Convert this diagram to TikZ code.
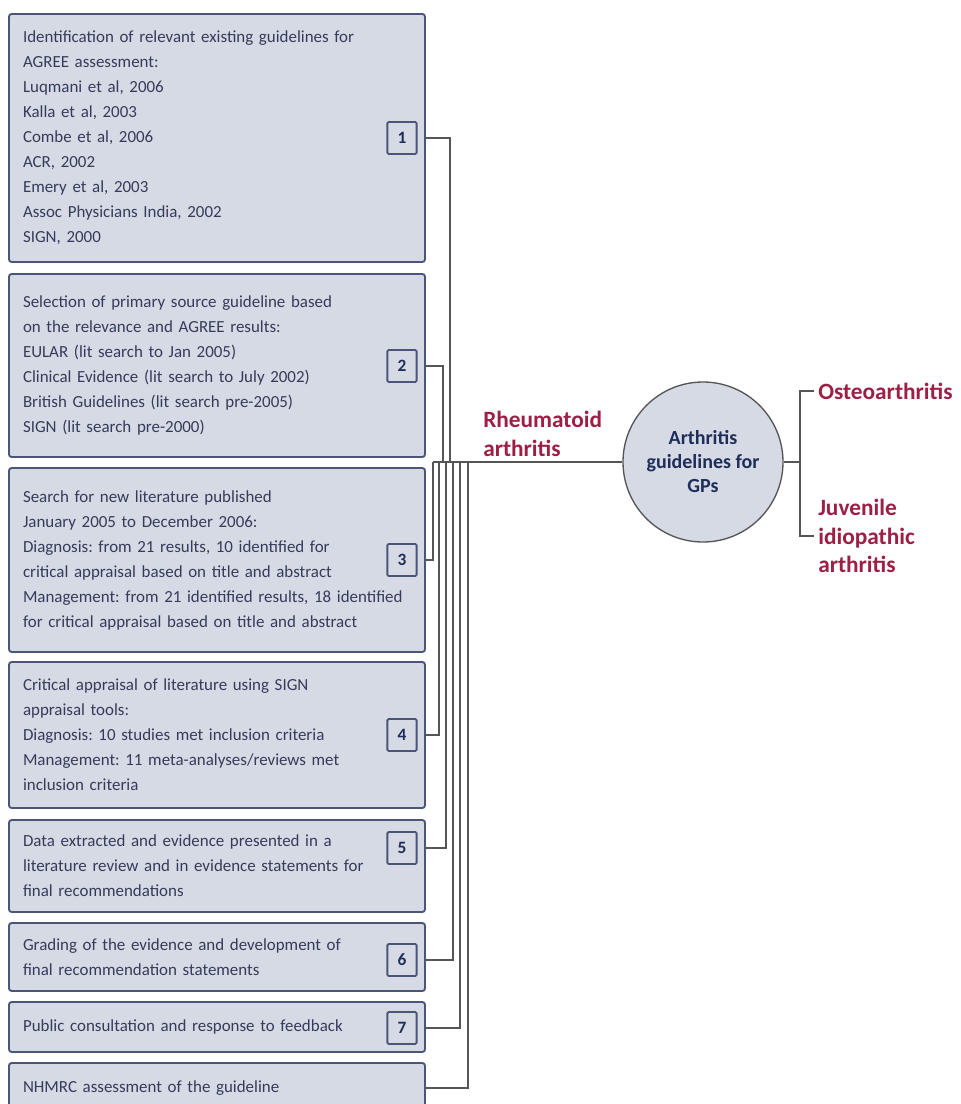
\documentclass[tikz,border=0pt]{standalone}
\usepackage{fontspec}
\setmainfont{Carlito}
\usetikzlibrary{positioning, calc}
\frenchspacing
\definecolor{boxfill}{HTML}{D5DAE4}
\definecolor{boxline}{HTML}{4A5578}
\definecolor{boxtext}{HTML}{353B5A}
\definecolor{ratext}{HTML}{9E1F45}
\definecolor{hubtext}{HTML}{1F2D5A}
\definecolor{wiregray}{HTML}{555555}
\tikzstyle{stage} = [rectangle, rounded corners=2pt, draw=boxline, line width=1.4pt, fill=boxfill, text=boxtext, align=left, text width=291pt, inner xsep=10.5pt, font=\fontsize{12.7}{18.75}\selectfont]
\tikzstyle{num} = [rectangle, rounded corners=1pt, draw=boxline, line width=1.4pt, fill=boxfill, text=hubtext, minimum width=22pt, minimum height=24pt, inner sep=0pt, font=\bfseries\fontsize{13}{15}\selectfont]
\tikzstyle{disease} = [text=ratext, align=left, inner sep=0pt, font=\bfseries\fontsize{17.5}{21.5}\selectfont]
\tikzstyle{hubnode} = [circle, draw=wiregray, line width=1pt, fill=boxfill, minimum size=120pt, inner sep=0pt, align=center, text=hubtext, font=\bfseries\fontsize{15}{18}\selectfont]
\tikzstyle{wire} = [draw=wiregray, line width=1.1pt]

\begin{document}
\begin{tikzpicture}[x=0.75pt, y=-0.75pt]

\clip (0,0) rectangle (961,1104);
\fill [white] (0,0) rectangle (961,1104);

% Stages
\node (s1) [stage, minimum height=186pt] at (217,138) {Identification of relevant existing guidelines for\\AGREE assessment:\\Luqmani et al, 2006\\Kalla et al, 2003\\Combe et al, 2006\\ACR, 2002\\Emery et al, 2003\\Assoc Physicians India, 2002\\SIGN, 2000};
\node (s2) [stage, minimum height=137.25pt] at (217,365.5) {Selection of primary source guideline based\\on the relevance and AGREE results:\\EULAR (lit search to Jan 2005)\\Clinical Evidence (lit search to July 2002)\\British Guidelines (lit search pre-2005)\\SIGN (lit search pre-2000)};
\node (s3) [stage, minimum height=138pt] at (217,560) {Search for new literature published\\January 2005 to December 2006:\\Diagnosis: from 21 results, 10 identified for\\critical appraisal based on title and abstract\\Management: from 21 identified results, 18 identified\\for critical appraisal based on title and abstract};
\node (s4) [stage, minimum height=109.5pt] at (217,735) {Critical appraisal of literature using SIGN\\appraisal tools:\\Diagnosis: 10 studies met inclusion criteria\\Management: 11 meta-analyses/reviews met\\inclusion criteria};
\node (s5) [stage, minimum height=69pt] at (217,866) {Data extracted and evidence presented in a\\literature review and in evidence statements for\\final recommendations};
\node (s6) [stage, minimum height=51pt] at (217,957) {Grading of the evidence and development of\\final recommendation statements};
\node (s7) [stage, minimum height=37.5pt] at (217,1027) {Public consultation and response to feedback};
\node (s8) [stage, minimum height=37.5pt] at (217,1088) {NHMRC assessment of the guideline};

% Step numbers
\node (n1) [num] at (402,138) {1};
\node (n2) [num] at (402,366) {2};
\node (n3) [num] at (402,560) {3};
\node (n4) [num] at (402,735) {4};
\node (n5) [num] at (402,848) {5};
\node (n6) [num] at (402,960) {6};
\node (n7) [num] at (402,1028) {7};

% Hub and topics
\node (hub) [hubnode] at (703,462) {Arthritis\\guidelines for\\GPs};
\node (ra) [disease, anchor=west] at (483,434) {Rheumatoid\\arthritis};
\node (oa) [disease, anchor=west] at (818,391) {Osteoarthritis};
\node (jia) [disease, anchor=west] at (818,536) {Juvenile\\idiopathic\\arthritis};

% Bundle
\coordinate (j1) at (450,462);
\coordinate (j2) at (443,462);
\coordinate (j3) at (433,462);
\coordinate (j4) at (439,462);
\coordinate (j5) at (446,462);
\coordinate (j6) at (453,462);
\coordinate (j7) at (460,462);
\coordinate (j8) at (468,462);
\coordinate (split) at (800,462);

% Connectors
\draw [wire] (s1.east |- n1) -| (j1);
\draw [wire] (s2.east |- n2) -| (j2);
\draw [wire] (s3.east |- n3) -| (j3);
\draw [wire] (s4.east |- n4) -| (j4);
\draw [wire] (s5.east |- n5) -| (j5);
\draw [wire] (s6.east |- n6) -| (j6);
\draw [wire] (s7.east |- n7) -| (j7);
\draw [wire] (s8.east) -| (j8);
\draw [wire] (j3) -- (hub);
\draw [wire] (hub) -- (split);
\draw [wire] ([xshift=-3pt]oa.west) -| (split) |- ([xshift=-3pt]jia.west);

\end{tikzpicture}
\end{document}
